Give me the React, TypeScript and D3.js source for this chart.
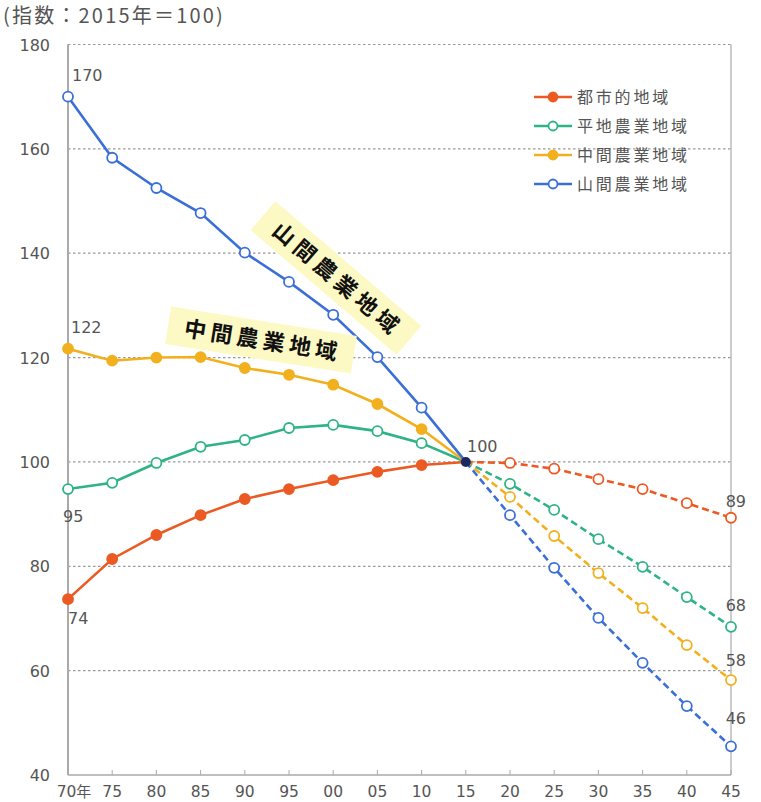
import React from "react";
import * as d3 from "d3";

const years = ["70年", "75", "80", "85", "90", "95", "00", "05", "10", "15", "20", "25", "30", "35", "40", "45"];
const urban = [73.7, 81.4, 86.0, 89.8, 92.9, 94.8, 96.5, 98.1, 99.4, 100, 99.8, 98.7, 96.7, 94.8, 92.1, 89.3];
const flat = [94.8, 96.0, 99.8, 102.9, 104.2, 106.5, 107.1, 105.9, 103.6, 100, 95.8, 90.8, 85.2, 79.9, 74.1, 68.4];
const hilly = [121.7, 119.4, 120.0, 120.1, 118.0, 116.7, 114.8, 111.1, 106.3, 100, 93.3, 85.8, 78.7, 72.0, 64.9, 58.2];
const mountain = [170.0, 158.3, 152.5, 147.7, 140.1, 134.5, 128.2, 120.1, 110.4, 100, 89.8, 79.7, 70.1, 61.5, 53.2, 45.5];
const yTicks = [40, 60, 80, 100, 120, 140, 160, 180];
const seriesNames = ["都市的地域", "平地農業地域", "中間農業地域", "山間農業地域"];
const seriesColors = ["#ec5a24", "#2eb387", "#f2b01e", "#3b6fd8"];
const seriesFilled = [true, false, true, false];
const baseIndex = 9;

const W = 761, H = 802;
const m = { left: 68, right: 731, top: 44.5, bottom: 775 };
const font = "'Noto Sans CJK JP', 'Noto Sans', sans-serif";
const numFont = "'DejaVu Sans', sans-serif";

export default function App() {
  const x = d3.scalePoint<string>().domain(years).range([m.left, m.right]);
  const y = d3.scaleLinear().domain([40, 180]).range([m.bottom, m.top]);
  const all = [urban, flat, hilly, mountain];
  const mk = (vals: number[], from: number, to: number) =>
    d3.line<[string, number]>().x((d) => x(d[0])!).y((d) => y(d[1]))(
      years.slice(from, to + 1).map((yr, i) => [yr, vals[from + i]] as [string, number])
    )!;
  const labelStyle = { fontFamily: numFont, fontSize: 16, fill: "#555" } as const;
  return (
    <svg width={W} height={H} style={{ position: "absolute", left: 0, top: 0, background: "#fff" }}>
      <text x={3} y={23} style={{ fontFamily: font, fontSize: 20, fill: "#555", letterSpacing: 2.2 }}>(指数：2015年＝100)</text>
      {yTicks.map((t) => (
        <g key={t}>
          {t !== 40 && (
            <line x1={m.left} x2={m.right} y1={y(t)} y2={y(t)} stroke="#999" strokeWidth={1.2} strokeDasharray="2.5,2.5" />
          )}
          <text x={50} y={y(t) + 6} textAnchor="end" style={{ fontFamily: numFont, fontSize: 16, fill: "#555" }}>{t}</text>
        </g>
      ))}
      <line x1={m.left} x2={m.left} y1={m.top} y2={m.bottom} stroke="#aaa" strokeWidth={2} />
      <line x1={m.right} x2={m.right} y1={m.top} y2={m.bottom} stroke="#aaa" strokeWidth={1.2} />
      <line x1={m.left} x2={m.right} y1={m.bottom} y2={m.bottom} stroke="#aaa" strokeWidth={1.5} />
      {years.map((yr) => (
        <g key={yr}>
          <line x1={x(yr)} x2={x(yr)} y1={m.bottom} y2={m.bottom - 5} stroke="#aaa" strokeWidth={1} />
          <text x={x(yr)! + (yr === "70年" ? 6 : 0)} y={797} textAnchor="middle" style={{ fontFamily: numFont, fontSize: 15.5, fill: "#555" }}>
            {yr === "70年" ? (<>70<tspan style={{ fontFamily: font, fontSize: 15 }}>年</tspan></>) : yr}
          </text>
        </g>
      ))}
      {all.map((vals, s) => (
        <g key={s}>
          <path d={mk(vals, 0, baseIndex)} fill="none" stroke={seriesColors[s]} strokeWidth={2.6} />
          <path d={mk(vals, baseIndex, years.length - 1)} fill="none" stroke={seriesColors[s]} strokeWidth={2.6} strokeDasharray="7,4" />
        </g>
      ))}
      {all.map((vals, s) => (
        <g key={"p" + s}>
          {vals.map((v, i) =>
            i === baseIndex ? null : (
              <circle key={i} cx={x(years[i])} cy={y(v)} r={5}
                fill={seriesFilled[s] && i < baseIndex ? seriesColors[s] : "#fff"}
                stroke={seriesColors[s]} strokeWidth={1.8} />
            )
          )}
        </g>
      ))}
      <circle cx={x(years[baseIndex])} cy={y(100)} r={5} fill="#1b2a5c" />
      <text x={72} y={81} style={labelStyle}>170</text>
      <text x={71} y={333} style={labelStyle}>122</text>
      <text x={63} y={522} style={labelStyle}>95</text>
      <text x={68} y={624} style={labelStyle}>74</text>
      <text x={467} y={452} style={labelStyle}>100</text>
      <text x={746} y={507} textAnchor="end" style={labelStyle}>89</text>
      <text x={746} y={611} textAnchor="end" style={labelStyle}>68</text>
      <text x={746} y={666} textAnchor="end" style={labelStyle}>58</text>
      <text x={746} y={724} textAnchor="end" style={labelStyle}>46</text>
      {seriesNames.map((n, i) => (
        <g key={n} transform={`translate(0, ${97 + i * 29})`}>
          <line x1={534} x2={572} y1={0} y2={0} stroke={seriesColors[i]} strokeWidth={2.5} />
          <circle cx={553} cy={0} r={4.5} fill={seriesFilled[i] ? seriesColors[i] : "#fff"} stroke={seriesColors[i]} strokeWidth={1.8} />
          <text x={577} y={6} style={{ fontFamily: font, fontSize: 16, fill: "#555", letterSpacing: 2.8 }}>{n}</text>
        </g>
      ))}
      <g transform="translate(336,278) rotate(40.5)">
        <rect x={-96} y={-19} width={192} height={38} fill="#fdf9c4" />
        <text x={2} y={8} textAnchor="middle" style={{ fontFamily: font, fontSize: 22, fontWeight: 700, fill: "#111", letterSpacing: 5 }}>山間農業地域</text>
      </g>
      <g transform="translate(261,340) rotate(9)">
        <rect x={-94} y={-19} width={188} height={38} fill="#fdf9c4" />
        <text x={2} y={8} textAnchor="middle" style={{ fontFamily: font, fontSize: 22, fontWeight: 700, fill: "#111", letterSpacing: 4.5 }}>中間農業地域</text>
      </g>
    </svg>
  );
}
